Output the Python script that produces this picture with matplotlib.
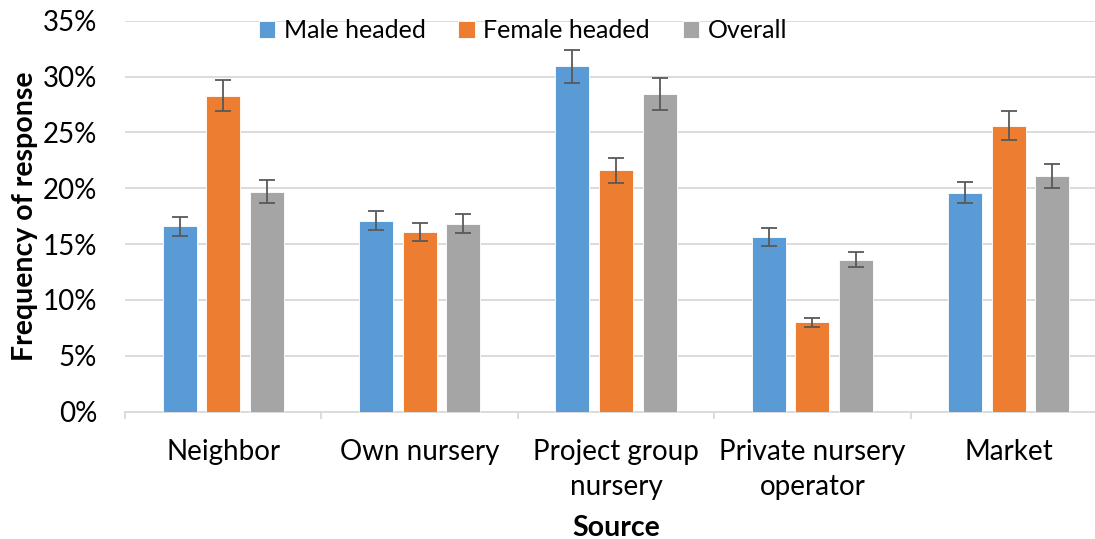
import matplotlib
matplotlib.use("Agg")
import matplotlib.pyplot as plt
import numpy as np
from matplotlib.ticker import FuncFormatter, MultipleLocator

categories = ["Neighbor", "Own nursery", "Project group\nnursery", "Private nursery\noperator", "Market"]
series_names = ["Male headed", "Female headed", "Overall"]
male = [16.6, 17.1, 30.9, 15.6, 19.6]
female = [28.3, 16.1, 21.6, 8.0, 25.6]
overall = [19.7, 16.8, 28.4, 13.6, 21.1]
male_err = [0.85, 0.87, 1.52, 0.81, 0.97]
female_err = [1.42, 0.82, 1.10, 0.40, 1.30]
overall_err = [0.99, 0.85, 1.43, 0.69, 1.06]

colors = ["#5B9BD5", "#ED7D31", "#A5A5A5"]

plt.rcParams['font.family'] = ['Lato', 'DejaVu Sans']

fig = plt.figure(figsize=(10.95, 5.39), dpi=100)
ax = fig.add_axes([125/1095, 1-411.5/539, 982/1095, 390.8/539])

x = np.arange(len(categories))
width = 0.173
step = 0.222
vals = [male, female, overall]
errs = [male_err, female_err, overall_err]
handles = []
for i, (v, e, c, n) in enumerate(zip(vals, errs, colors, series_names)):
    b = ax.bar(x + (i-1)*step, v, width, color=c, label=n, zorder=3,
               edgecolor='white', linewidth=0.6)
    ax.errorbar(x + (i-1)*step, v, yerr=e, fmt='none', ecolor='#595959',
                elinewidth=1.3, capsize=6, capthick=1.3, zorder=4)
    handles.append(b)

ax.set_xlim(-0.5, len(categories)-0.5)
ax.set_ylim(0, 35)
ax.yaxis.set_major_locator(MultipleLocator(5))
ax.yaxis.set_major_formatter(FuncFormatter(lambda v, p: f"{int(v)}%"))
ax.grid(axis='y', color='#D9D9D9', linewidth=1.3, zorder=0)
ax.set_axisbelow(True)
for s in ['left', 'right', 'top']:
    ax.spines[s].set_visible(False)
ax.spines['bottom'].set_color('#D9D9D9')
ax.spines['bottom'].set_linewidth(1.3)

ax.set_xticks(x)
ax.set_xticklabels(categories, fontsize=20, color='#000000', linespacing=1.42)
ax.set_xticks(np.arange(-0.5, len(categories)), minor=True)
ax.tick_params(axis='x', which='major', length=0, pad=20)
ax.tick_params(axis='x', which='minor', length=5, color='#D9D9D9', width=1.3)
ax.tick_params(axis='y', length=0, labelsize=20, pad=20)

ax.set_ylabel("Frequency of response", fontsize=20.5, fontweight='bold')
ax.yaxis.set_label_coords(-0.089, 0.5)
ax.set_xlabel("Source", fontsize=20.5, fontweight='bold')
ax.xaxis.set_label_coords(0.5, -0.264)

fig.legend(handles=handles, labels=series_names, loc='center',
           bbox_to_anchor=(523/1095, 1-31/539), ncol=3, frameon=False,
           fontsize=18, handlelength=0.65, handleheight=0.65, handletextpad=0.35,
           columnspacing=1.3, borderaxespad=0)

fig.savefig("out.png", dpi=100)
